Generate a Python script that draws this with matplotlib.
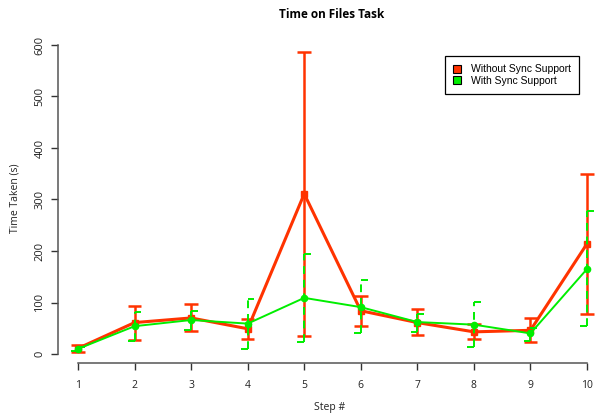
import matplotlib

matplotlib.use("Agg")
import matplotlib.pyplot as plt
from matplotlib.patches import Patch

steps = [1, 2, 3, 4, 5, 6, 7, 8, 9, 10]

# without sync support
no_sync_mean = [11, 61, 70, 49, 311, 84, 61, 43, 46, 214]
no_sync_low = [4.5, 27, 45, 28.5, 35, 55, 37, 28.5, 22.5, 78]
no_sync_high = [17, 94, 98, 67, 586, 113, 88, 57.5, 69, 350]

# with sync support
sync_mean = [10, 54, 66, 59, 109, 91, 62, 57, 40, 165]
sync_low = [6, 25, 46, 10, 24, 41, 43, 13, 26, 55]
sync_high = [14, 81, 83, 106, 195, 143, 77, 101, 50, 278]

y_ticks = [0, 100, 200, 300, 400, 500, 600]

RED = "#ff3300"
GREEN = "#00ee00"
W, H = 603, 415

plt.rcParams["font.family"] = ["Open Sans", "DejaVu Sans"]

fig = plt.figure(figsize=(W / 100, H / 100), dpi=100)
# axes box in pixels: left 58, right 600, top 40, bottom 363
ax = fig.add_axes([58 / W, (H - 363) / H, (600 - 58) / W, (363 - 40) / H])

px_x = 56.5
px_y = 0.515
ax.set_xlim(1 - 20 / px_x, 10 + 13 / px_x)
ax.set_ylim(0 - 9 / px_y, 600 + 5 / px_y)

cap = 0.12

# red series
ax.vlines(steps, no_sync_low, no_sync_high, color=RED, lw=1.8, zorder=2)
ax.hlines(no_sync_high, [s - cap for s in steps], [s + cap for s in steps], color=RED, lw=1.8, zorder=2)
ax.hlines(no_sync_low, [s - cap for s in steps], [s + cap for s in steps], color=RED, lw=1.8, zorder=2)
ax.plot(steps, no_sync_mean, color=RED, lw=2.2, marker="s", markersize=4.5, zorder=3)

# green series, dashed bars with half caps
ax.vlines(steps, sync_low, sync_high, color=GREEN, lw=1.4, linestyles=(0, (4, 3)), zorder=4)
ax.hlines(sync_high, steps, [s + cap for s in steps], color=GREEN, lw=1.4, zorder=4)
ax.hlines(sync_low, [s - cap for s in steps], steps, color=GREEN, lw=1.4, zorder=4)
ax.plot(steps, sync_mean, color=GREEN, lw=1.4, marker="o", markersize=4.5, zorder=5)

for side in ["top", "right"]:
    ax.spines[side].set_visible(False)
ax.spines["left"].set_bounds(0, 600)
ax.spines["bottom"].set_bounds(1, 10)
for side in ["left", "bottom"]:
    ax.spines[side].set_color("#555555")
    ax.spines[side].set_linewidth(1.1)

ax.set_yticks(y_ticks)
ax.set_yticklabels([str(v) for v in y_ticks], rotation=90, va="center", fontsize=8, color="#222222")
ax.set_xticks(steps)
ax.set_xticklabels([str(s) for s in steps], fontsize=7.5, color="#222222")
ax.tick_params(axis="both", length=5, width=1, color="#333333")
ax.tick_params(axis="y", pad=4)
ax.tick_params(axis="x", pad=7)

fig.text(332 / W, 1 - 15 / H, "Time on Files Task", ha="center", va="center",
         fontsize=8.5, fontweight="bold")
fig.text(15 / W, 1 - 198 / H, "Time Taken (s)", ha="center", va="center",
         rotation=90, fontsize=7.5, color="#222222")
fig.text(330 / W, 1 - 407 / H, "Step #", ha="center", va="center",
         fontsize=7.5, color="#222222")

handles = [
    Patch(facecolor=RED, edgecolor="black", lw=0.8, label="Without Sync Support"),
    Patch(facecolor=GREEN, edgecolor="black", lw=0.8, label="With Sync Support"),
]
leg = ax.legend(handles=handles, loc="upper right",
                bbox_to_anchor=(579 / W, 1 - 56 / H), bbox_transform=fig.transFigure,
                fancybox=False, framealpha=1, edgecolor="black",
                handlelength=0.8, handleheight=0.8, handletextpad=0.9,
                borderpad=0.8, borderaxespad=0, labelspacing=0.15,
                prop={"family": ["Liberation Sans"], "size": 7.5})
leg.get_frame().set_linewidth(0.9)

fig.savefig("out.png", dpi=100)
